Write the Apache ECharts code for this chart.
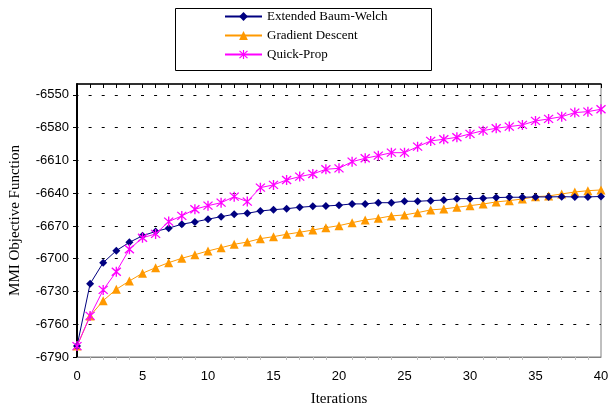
<!DOCTYPE html>
<html>
<head>
<meta charset="utf-8">
<script src="https://cdn.jsdelivr.net/npm/echarts@6/dist/echarts.min.js"></script>
<style>html,body{margin:0;padding:0;background:#fff}#c{width:609px;height:408px}</style>
</head>
<body>
<div id="c"></div>
<script>
const iterations = Array.from({length: 41}, (_, i) => i);
const ebw = [-6780, -6723, -6703.6, -6692.6, -6685, -6679, -6675, -6672, -6668.4, -6666.3, -6663.8,
  -6661.5, -6659.3, -6658.4, -6656.3, -6655.1, -6654.2, -6652.9, -6652, -6651.7, -6651,
  -6649.8, -6649.8, -6648.7, -6648.7, -6647.4, -6647.4, -6646.8, -6646.2, -6645, -6645,
  -6644.6, -6644, -6643.7, -6643.7, -6643.4, -6643.4, -6643.2, -6643.4, -6643.4, -6643];
const gd = [-6780, -6752.4, -6738.4, -6728, -6720.4, -6713.3, -6708.2, -6703.6, -6699.6, -6696.3, -6692.9,
  -6689.9, -6686.8, -6684.7, -6681.6, -6679.8, -6677.6, -6675.8, -6673.7, -6671.6, -6669.7,
  -6667, -6664.5, -6663, -6660.8, -6659.9, -6657.8, -6655.3, -6654.4, -6652.9, -6651.4,
  -6649.9, -6648, -6646.8, -6645.3, -6643.2, -6642.5, -6640.7, -6638.9, -6637.7, -6637];
const qp = [-6780, -6752.4, -6728.6, -6711.9, -6691.3, -6680.8, -6677.3, -6666, -6660.8, -6654.7, -6651.4,
  -6648.7, -6643.2, -6647.7, -6634.9, -6632.4, -6627.9, -6624.8, -6622.4, -6618.1, -6617.2,
  -6611.1, -6608, -6605.6, -6602.9, -6602.9, -6597.4, -6592.1, -6590.6, -6588.8, -6585.7,
  -6582.7, -6580.5, -6579, -6577.5, -6573.8, -6572, -6569.9, -6566.2, -6565.3, -6563.1];
const seriesNames = ['Extended Baum-Welch', 'Gradient Descent', 'Quick-Prop'];
const yTicks = [-6790, -6760, -6730, -6700, -6670, -6640, -6610, -6580, -6550];
const xTicks = [0, 5, 10, 15, 20, 25, 30, 35, 40];

const starPath = 'path://M4.4,0 L5.6,0 L5.6,10 L4.4,10 Z ' +
  'M1.42,0.58 L9.42,8.58 L8.58,9.42 L0.58,1.42 Z ' +
  'M8.58,0.58 L9.42,1.42 L1.42,9.42 L0.58,8.58 Z';

const pair = arr => arr.map((v, i) => [iterations[i], v]);
const chart = echarts.init(document.getElementById('c'), null, {renderer: 'canvas'});
chart.setOption({
  animation: false,
  backgroundColor: '#fff',
  grid: {left: 77, right: 8, top: 84, bottom: 51, containLabel: false, outerBoundsMode: 'none',
    show: true, borderColor: '#808080', borderWidth: 1, backgroundColor: 'transparent'},
  graphic: [{
    type: 'rect', left: 173, top: 6, z: 100,
    shape: {width: 256, height: 62},
    style: {fill: 'none', stroke: '#000', lineWidth: 1}
  }],
  legend: {
    orient: 'vertical', left: 219, top: 5, itemWidth: 37, itemHeight: 11, itemGap: 6,
    textStyle: {fontFamily: 'Liberation Serif', fontSize: 13, color: '#000'},
    data: seriesNames
  },
  xAxis: [{
    type: 'value', min: 0, max: 40, interval: 5, position: 'bottom',
    name: 'Iterations', nameLocation: 'middle', nameGap: 35,
    nameTextStyle: {fontFamily: 'Liberation Serif', fontSize: 15, color: '#000'},
    axisLine: {show: true, onZero: false, lineStyle: {color: '#808080', width: 1}},
    axisTick: {show: false},
    minorTick: {show: true, splitNumber: 5, length: 3, lineStyle: {color: '#c0c0c0'}},
    axisLabel: {fontFamily: 'Liberation Sans', fontSize: 13, color: '#000', margin: 13,
      customValues: xTicks},
    splitLine: {show: false}
  }, {
    type: 'value', min: 0, max: 40, interval: 1, position: 'top',
    axisLine: {show: true, onZero: false, lineStyle: {color: '#000', width: 1.5}},
    axisTick: {show: true, inside: true, length: 4, lineStyle: {color: '#000'}},
    axisLabel: {show: false}, splitLine: {show: false}
  }],
  yAxis: {
    type: 'value', min: -6790, max: -6540, interval: 30,
    name: 'MMI Objective Function', nameLocation: 'middle', nameGap: 54, nameRotate: 90,
    nameTextStyle: {fontFamily: 'Liberation Serif', fontSize: 15, color: '#000'},
    axisLine: {show: true, onZero: false, lineStyle: {color: '#000', width: 2}},
    axisTick: {show: true, length: 4, lineStyle: {color: '#000'}, customValues: yTicks},
    axisLabel: {fontFamily: 'Liberation Sans', fontSize: 13, color: '#000', margin: 8,
      customValues: yTicks, formatter: v => String(v)},
    splitLine: {show: true, lineStyle: {color: '#000', width: 1, type: [3, 10.1], dashOffset: 1.5}}
  },
  series: [{
    name: seriesNames[0], type: 'line', data: pair(ebw), xAxisIndex: 0,
    symbol: 'diamond', symbolSize: 8, color: '#000080',
    lineStyle: {width: 1, color: '#000080'}, itemStyle: {color: '#000080'}, z: 3
  }, {
    name: seriesNames[1], type: 'line', data: pair(gd), xAxisIndex: 0,
    symbol: 'triangle', symbolSize: 9, color: '#FF9900',
    lineStyle: {width: 1, color: '#FF9900'}, itemStyle: {color: '#FF9900'}, z: 2
  }, {
    name: seriesNames[2], type: 'line', data: pair(qp), xAxisIndex: 0,
    symbol: starPath, symbolSize: 10, color: '#FF00FF',
    lineStyle: {width: 1, color: '#FF00FF'}, itemStyle: {color: '#FF00FF'}, z: 4
  }]
});
</script>
</body>
</html>
